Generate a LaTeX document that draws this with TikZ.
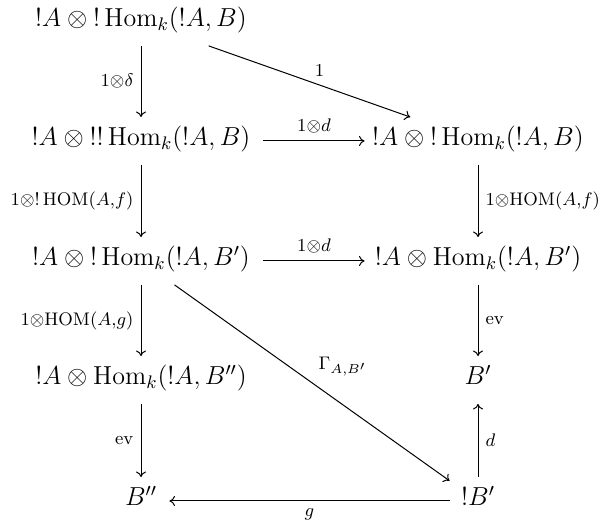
\RequirePackage{fix-cm}
\documentclass[tikz,border=0pt]{standalone}
\usepackage{amsmath}
\usetikzlibrary{arrows.meta}
\begin{document}
\begin{tikzpicture}[x=0.5pt,y=-0.5pt,
  obj/.style={inner sep=0pt, minimum height=23.5pt, text height=0.8em, text depth=0.3em, font=\fontsize{13}{15.6}\selectfont},
  longl/.style={obj, minimum width=122pt},
  longr/.style={obj, minimum width=113pt},
  short/.style={obj, minimum width=28pt},
  arr/.style={line width=0.5pt, -{Computer Modern Rightarrow[width=5pt,length=2.8pt]}},
  lab/.style={inner sep=3.5pt, font=\fontsize{13}{15.6}\selectfont}
]
\useasboundingbox (0,0) rectangle (600,522);
\node[longl] (n1)  at (141,22)  {$!A \otimes {!}\operatorname{Hom}_k(!A, B)$};
\node[longl] (n2l) at (141,141) {$!A \otimes {!!}\operatorname{Hom}_k(!A, B)$};
\node[longr] (n2r) at (478,141) {$!A \otimes {!}\operatorname{Hom}_k(!A, B)$};
\node[longl] (n3l) at (141,261) {$!A \otimes {!}\operatorname{Hom}_k(!A, B')$};
\node[longr] (n3r) at (478,261) {$!A \otimes \operatorname{Hom}_k(!A, B')$};
\node[longl] (n4l) at (141,380) {$!A \otimes \operatorname{Hom}_k(!A, B'')$};
\node[short] (n4r) at (478,380) {$B'$};
\node[short] (n5l) at (141,501) {$B''$};
\node[short] (n5r) at (478,501) {$!B'$};
\draw[arr] (n1) -- node[lab,left]{$\scriptstyle 1\otimes\delta$} (n2l);
\draw[arr] (n1) -- node[lab,pos=.55,above,inner sep=4pt]{$\scriptstyle 1$} (n2r);
\draw[arr] (n2l) -- node[lab,above]{$\scriptstyle 1\otimes d$} (n2r);
\draw[arr] (n2l) -- node[lab,left]{$\scriptstyle 1\otimes{!}\operatorname{HOM}(A,f)$} (n3l);
\draw[arr] (n2r) -- node[lab,right]{$\scriptstyle 1\otimes\operatorname{HOM}(A,f)$} (n3r);
\draw[arr] (n3l) -- node[lab,above]{$\scriptstyle 1\otimes d$} (n3r);
\draw[arr] (n3l) -- node[lab,left]{$\scriptstyle 1\otimes\operatorname{HOM}(A,g)$} (n4l);
\draw[arr] (n3l) -- node[lab,pos=.5,anchor=south west,inner sep=3pt]{$\scriptstyle\Gamma_{A,B'}$} (n5r);
\draw[arr] (n3r) -- node[lab,right]{$\scriptstyle\mathrm{ev}$} (n4r);
\draw[arr] (n4l) -- node[lab,left]{$\scriptstyle\mathrm{ev}$} (n5l);
\draw[arr] (n5r) -- node[lab,right]{$\scriptstyle d$} (n4r);
\draw[arr] (n5r) -- node[lab,below]{$\scriptstyle g$} (n5l);
\end{tikzpicture}
\end{document}
